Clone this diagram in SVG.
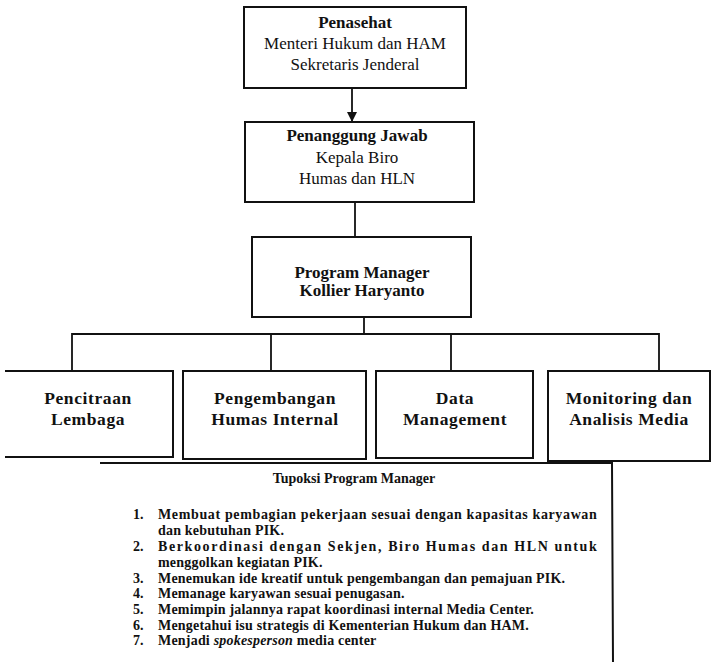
<svg xmlns="http://www.w3.org/2000/svg" width="719" height="662" viewBox="0 0 719 662">
<defs>
<style>
.box{fill:#fff;stroke:#111;stroke-width:2}
.open{fill:none;stroke:#111;stroke-width:2}
.con{fill:none;stroke:#111;stroke-width:1.8}
text{font-family:"Liberation Serif","Times New Roman",serif;fill:#111;text-anchor:middle}
.b{font-weight:bold}
.t17{font-size:17px}
.t18{font-family:"Liberation Serif","Times New Roman",serif;font-size:17.5px;font-weight:bold;letter-spacing:0.6px}
.li{font-size:14px;font-weight:bold;text-anchor:start;letter-spacing:0.2px}
.num{font-size:14px;font-weight:bold;text-anchor:start}
</style>
<marker id="arr" markerWidth="10" markerHeight="10" refX="9" refY="5" orient="auto" markerUnits="userSpaceOnUse">
<path d="M0,0 L10,5 L0,10 Z" fill="#111"/>
</marker>
</defs>
<rect width="719" height="662" fill="#fff"/>

<g id="connectors">
<line class="con" x1="352" y1="88" x2="352" y2="121" marker-end="url(#arr)"/>
<line class="con" x1="355" y1="202" x2="355" y2="237"/>
<line class="con" x1="364" y1="317" x2="364" y2="334"/>
<polyline class="con" points="72,371 72,334 659,334 659,371"/>
<line class="con" x1="271" y1="334" x2="271" y2="371"/>
<line class="con" x1="451" y1="334" x2="451" y2="371"/>
</g>

<g id="penasehat">
<rect class="box" x="244" y="7" width="222" height="81"/>
<text class="t17 b" x="355" y="28">Penasehat</text>
<text class="t17" x="355" y="49">Menteri Hukum dan HAM</text>
<text class="t17" x="355" y="70">Sekretaris Jenderal</text>
</g>

<g id="penanggung-jawab">
<rect class="box" x="245" y="122" width="229" height="80"/>
<text class="t17 b" x="357" y="141">Penanggung Jawab</text>
<text class="t17" x="357" y="163">Kepala Biro</text>
<text class="t17" x="357" y="184">Humas dan HLN</text>
</g>

<g id="program-manager">
<rect class="box" x="252" y="237" width="219" height="80"/>
<text class="t17 b" x="362" y="278">Program Manager</text>
<text class="t17 b" x="362" y="296">Kollier Haryanto</text>
</g>

<g id="pencitraan">
<polyline class="open" points="5,371 173,371 173,457 5,457"/>
<text class="t18" x="88" y="404">Pencitraan</text>
<text class="t18" x="88" y="425">Lembaga</text>
</g>

<g id="pengembangan">
<rect class="box" x="183" y="371" width="183" height="88"/>
<text class="t18" x="275" y="404">Pengembangan</text>
<text class="t18" x="275" y="425">Humas Internal</text>
</g>

<g id="data-management">
<rect class="box" x="376" y="371" width="157" height="87"/>
<text class="t18" x="455" y="404">Data</text>
<text class="t18" x="455" y="425">Management</text>
</g>

<g id="monitoring">
<rect class="box" x="548" y="371" width="162" height="90"/>
<text class="t18" x="629" y="404">Monitoring dan</text>
<text class="t18" x="629" y="425">Analisis Media</text>
</g>

<g id="tupoksi">
<polyline class="open" points="100,463 612,463 613,662"/>
<text class="b" style="font-size:14px" x="354" y="483">Tupoksi Program Manager</text>
<text class="num" x="133" y="519">1.</text>
<text class="li" x="158" y="519" textLength="439" lengthAdjust="spacing">Membuat pembagian pekerjaan sesuai dengan kapasitas karyawan</text>
<text class="li" x="158" y="534.5">dan kebutuhan PIK.</text>
<text class="num" x="133" y="551">2.</text>
<text class="li" x="158" y="551" textLength="439" lengthAdjust="spacing">Berkoordinasi dengan Sekjen, Biro Humas dan HLN untuk</text>
<text class="li" x="158" y="566.5">menggolkan kegiatan PIK.</text>
<text class="num" x="133" y="582.5">3.</text>
<text class="li" x="158" y="582.5">Menemukan ide kreatif untuk pengembangan dan pemajuan PIK.</text>
<text class="num" x="133" y="598">4.</text>
<text class="li" x="158" y="598">Memanage karyawan sesuai penugasan.</text>
<text class="num" x="133" y="614">5.</text>
<text class="li" x="158" y="614">Memimpin jalannya rapat koordinasi internal Media Center.</text>
<text class="num" x="133" y="629.5">6.</text>
<text class="li" x="158" y="629.5">Mengetahui isu strategis di Kementerian Hukum dan HAM.</text>
<text class="num" x="133" y="645">7.</text>
<text class="li" x="158" y="645">Menjadi <tspan font-style="italic">spokesperson</tspan> media center</text>
</g>
</svg>
